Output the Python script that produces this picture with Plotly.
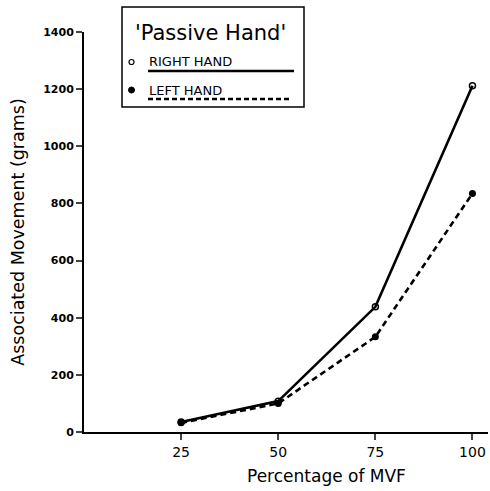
import plotly.graph_objects as go

mvf_pct = [25, 50, 75, 100]
right_hand = [35, 108, 438, 1212]
left_hand = [32, 100, 333, 835]
y_ticks = [0, 200, 400, 600, 800, 1000, 1200, 1400]
y_tick_labels = ["0", "200", "400", "600", "800", "1000", "1200", "1400"]
x_ticks = [25, 50, 75, 100]

L, R, T, B = 84, 2, 32, 59
W, H = 490, 491
pw, ph = W - L - R, H - T - B

def px(x):
    return (x - L) / pw

def py(y):
    return (H - B - y) / ph

fig = go.Figure()
fig.add_trace(go.Scatter(x=mvf_pct, y=right_hand, mode="lines+markers", name="RIGHT HAND",
                         line=dict(color="black", width=2.6),
                         marker=dict(symbol="circle-open", size=6, color="black", line=dict(width=1.5))))
fig.add_trace(go.Scatter(x=mvf_pct, y=left_hand, mode="lines+markers", name="LEFT HAND",
                         line=dict(color="black", width=2.6, dash="6px,4px"),
                         marker=dict(symbol="circle", size=7, color="black")))

font = "DejaVu Sans"
shapes = [
    dict(type="rect", xref="paper", yref="paper", x0=px(122), x1=px(304), y0=py(107), y1=py(7),
         line=dict(color="black", width=1.5), fillcolor="white"),
    dict(type="line", xref="paper", yref="paper", x0=px(148), x1=px(294), y0=py(71), y1=py(71),
         line=dict(color="black", width=2.5)),
    dict(type="line", xref="paper", yref="paper", x0=px(148), x1=px(291), y0=py(99), y1=py(99),
         line=dict(color="black", width=2.5, dash="5px,3px")),
    dict(type="circle", xref="paper", yref="paper", x0=px(129), x1=px(134), y0=py(64.5), y1=py(59.5),
         line=dict(color="black", width=1.2)),
    dict(type="circle", xref="paper", yref="paper", x0=px(128.5), x1=px(134.5), y0=py(93), y1=py(87),
         line=dict(color="black", width=1), fillcolor="black"),
]
annotations = [
    dict(text="'Passive Hand'", xref="paper", yref="paper", x=px(210), y=py(33), showarrow=False,
         font=dict(family=font, size=21, color="black"), xanchor="center", yanchor="middle"),
    dict(text="RIGHT HAND", xref="paper", yref="paper", x=px(147), y=py(62), showarrow=False,
         font=dict(family=font, size=13, color="black"), xanchor="left", yanchor="middle"),
    dict(text="LEFT HAND", xref="paper", yref="paper", x=px(147), y=py(90), showarrow=False,
         font=dict(family=font, size=13, color="black"), xanchor="left", yanchor="middle"),
    dict(text="Percentage of MVF", xref="paper", yref="paper", x=px(326), y=py(476), showarrow=False,
         font=dict(family=font, size=17, color="black"), xanchor="center", yanchor="middle"),
]

fig.update_layout(
    width=W, height=H, margin=dict(l=L, r=R, t=T, b=B),
    plot_bgcolor="white", paper_bgcolor="white", showlegend=False,
    shapes=shapes, annotations=annotations,
    font=dict(family=font, color="black"),
)
fig.update_xaxes(range=[0, 104], tickvals=x_ticks, ticks="outside", ticklen=6, tickwidth=1.5,
                 showline=True, linecolor="black", linewidth=2, showgrid=False, zeroline=False,
                 automargin=False, tickfont=dict(size=14))
fig.update_yaxes(range=[0, 1400], tickvals=y_ticks, ticktext=["<b>%s</b>" % t for t in y_tick_labels],
                 ticks="outside", ticklen=6, tickwidth=1.5,
                 showline=True, linecolor="black", linewidth=2, showgrid=False, zeroline=False,
                 automargin=False,
                 tickfont=dict(size=11), title=dict(text="Associated Movement (grams)", font=dict(size=17.5), standoff=14))

fig.write_html("out.html", config={"displayModeBar": False},
               post_script="document.body.style.margin='0';document.body.style.overflow='hidden';")
